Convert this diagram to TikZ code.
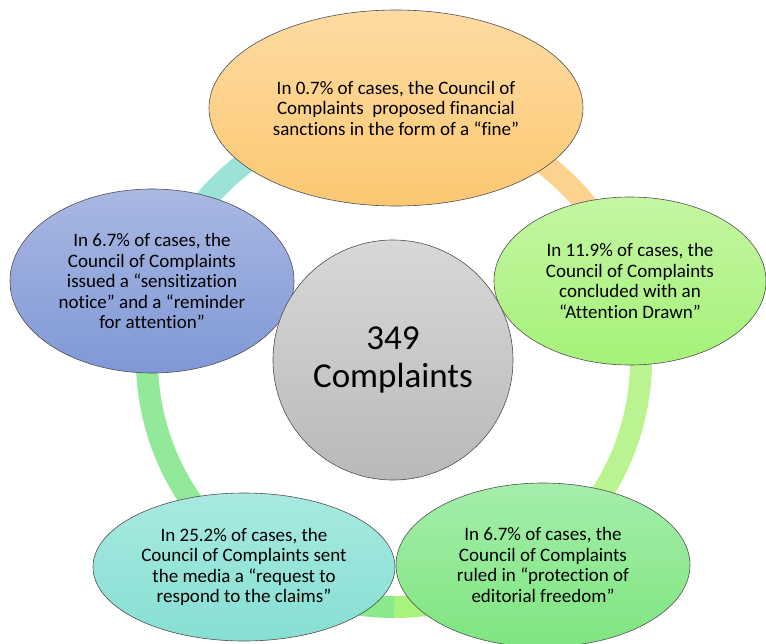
\documentclass[tikz,border=0pt]{standalone}
\usepackage{fontspec}
\setmainfont{Carlito}[Ligatures=NoCommon]
\usetikzlibrary{shapes.geometric}
\definecolor{ringOrange}{HTML}{FCD38E}
\definecolor{ringLight}{HTML}{BAF491}
\definecolor{ringBright}{HTML}{A9F27B}
\definecolor{ringGreen}{HTML}{89E98B}
\definecolor{ringGreenB}{HTML}{93E99A}
\definecolor{ringTeal}{HTML}{9BE2D8}
\definecolor{edgeGray}{HTML}{505050}
\definecolor{hubTop}{HTML}{D8D8D8}
\definecolor{hubBot}{HTML}{B9B9B9}
\definecolor{orTop}{HTML}{FEDBA2}
\definecolor{orBot}{HTML}{FBC872}
\definecolor{lgTop}{HTML}{C4F6A2}
\definecolor{lgBot}{HTML}{A5F279}
\definecolor{gTop}{HTML}{A4EEAA}
\definecolor{gBot}{HTML}{7FE580}
\definecolor{tTop}{HTML}{A8E9E1}
\definecolor{tBot}{HTML}{86DFD2}
\definecolor{bTop}{HTML}{AAB8E2}
\definecolor{bBot}{HTML}{7F98D6}
\tikzset{
  ringseg/.style={line width=22pt, draw=#1},
  bubble/.style={ellipse, draw=edgeGray, line width=0.6pt, inner sep=0pt,
    align=center, font=\fontsize{19}{20.5}\selectfont, text=black},
  hub/.style={circle, draw=edgeGray, line width=0.6pt, inner sep=0pt,
    align=center, font=\fontsize{35}{38}\selectfont, text=black,
    top color=hubTop, bottom color=hubBot}
}
\begin{document}
\begin{tikzpicture}[x=1pt,y=-1pt]
\useasboundingbox (0,0) rectangle (766,643);
\coordinate (c) at (394,360);
% ring
\draw[ringseg=ringOrange] ([shift={(-90:247)}]c) arc[start angle=-90,end angle=-18,radius=247];
\draw[ringseg=ringLight] ([shift={(-18:247)}]c) arc[start angle=-18,end angle=54,radius=247];
\draw[ringseg=ringBright] ([shift={(54:247)}]c) arc[start angle=54,end angle=90,radius=247];
\draw[ringseg=ringGreen] ([shift={(90:247)}]c) arc[start angle=90,end angle=126,radius=247];
\draw[ringseg=ringGreenB] ([shift={(126:247)}]c) arc[start angle=126,end angle=198,radius=247];
\draw[ringseg=ringTeal] ([shift={(198:247)}]c) arc[start angle=198,end angle=270,radius=247];
% bubbles
\node[bubble, minimum width=374pt, minimum height=196pt, top color=orTop, bottom color=orBot] (fine) at (396,108)
  {In 0.7\% of cases, the Council of\\Complaints\ \ proposed financial\\sanctions in the form of a “fine”};
\node[bubble, minimum width=272pt, minimum height=168pt, top color=lgTop, bottom color=lgBot] (attn) at (630,281)
  {In 11.9\% of cases, the\\Council of Complaints\\concluded with an\\“Attention Drawn”};
\node[bubble, minimum width=294pt, minimum height=164pt, top color=gTop, bottom color=gBot] (prot) at (543,565)
  {In 6.7\% of cases, the\\Council of Complaints\\ruled in “protection of\\editorial freedom”};
\node[bubble, minimum width=302pt, minimum height=148pt, top color=tTop, bottom color=tBot] (resp) at (244,567)
  {In 25.2\% of cases, the\\Council of Complaints sent\\the media a “request to\\respond to the claims”};
\node[bubble, minimum width=284pt, minimum height=184pt, top color=bTop, bottom color=bBot] (sens) at (152,281)
  {In 6.7\% of cases, the\\Council of Complaints\\issued a “sensitization\\notice” and a “reminder\\for attention”};
% hub
\node[hub, minimum size=240pt] (hubnode) at (393,360) {349\\Complaints};
\end{tikzpicture}
\end{document}
